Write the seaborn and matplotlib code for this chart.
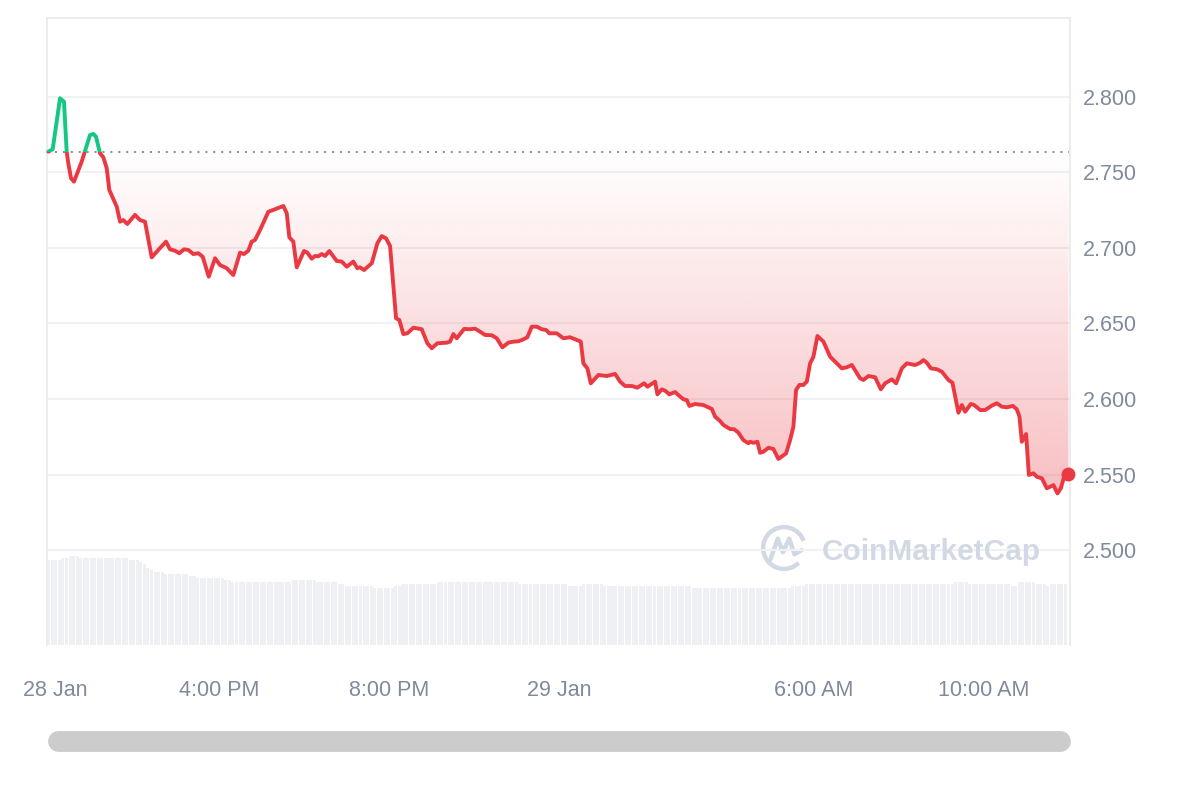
import numpy as np
import pandas as pd
import seaborn as sns
import matplotlib
matplotlib.use("Agg")
import matplotlib.pyplot as plt
from matplotlib.patches import Rectangle, Arc
from matplotlib.path import Path
from matplotlib.lines import Line2D

# price, hours since 28 Jan 00:00
hours = [11.984, 12.087, 12.259, 12.353, 12.416, 12.454, 12.518, 12.588, 12.769, 12.965,
         13.042, 13.106, 13.2, 13.278, 13.358, 13.419, 13.593, 13.671, 13.748, 13.842,
         14.024, 14.141, 14.259, 14.416, 14.572, 14.753, 14.847, 14.965, 15.066, 15.176,
         15.278, 15.395, 15.513, 15.616, 15.758, 15.906, 16.024, 16.181, 16.336, 16.494,
         16.588, 16.689, 16.769, 16.847, 16.965, 17.16, 17.278, 17.513, 17.593, 17.654,
         17.748, 17.828, 18.0, 18.078, 18.181, 18.259, 18.336, 18.416, 18.494, 18.595,
         18.769, 18.887, 19.005, 19.16, 19.254, 19.318, 19.412, 19.593, 19.725, 19.828,
         19.929, 20.024, 20.165, 20.242, 20.336, 20.431, 20.572, 20.769, 20.901, 21.005,
         21.136, 21.358, 21.435, 21.513, 21.593, 21.765, 21.906, 22.024, 22.141, 22.259,
         22.416, 22.534, 22.666, 22.807, 22.925, 23.042, 23.16, 23.254, 23.358, 23.475,
         23.593, 23.694, 23.772, 23.946, 24.101, 24.259, 24.416, 24.511, 24.572, 24.666,
         24.746, 24.925, 25.122, 25.318, 25.435, 25.553, 25.711, 25.842, 26.0, 26.078,
         26.259, 26.313, 26.416, 26.494, 26.595, 26.729, 26.831, 26.925, 27.005, 27.066,
         27.2, 27.395, 27.593, 27.671, 27.788, 27.866, 28.024, 28.118, 28.219, 28.336,
         28.454, 28.494, 28.572, 28.666, 28.729, 28.807, 28.925, 29.042, 29.16, 29.341,
         29.435, 29.513, 29.576, 29.654, 29.748, 29.828, 29.906, 29.984, 30.078, 30.219,
         30.376, 30.494, 30.652, 30.769, 30.887, 31.082, 31.16, 31.278, 31.435, 31.569,
         31.671, 31.828, 31.929, 32.064, 32.181, 32.376, 32.494, 32.572, 32.652, 32.746,
         32.887, 33.005, 33.16, 33.254, 33.395, 33.475, 33.553, 33.687, 33.765, 33.906,
         34.024, 34.181, 34.299, 34.416, 34.534, 34.675, 34.769, 34.831, 34.887, 34.988,
         35.052, 35.16, 35.24, 35.358, 35.475, 35.631, 35.725, 35.805, 35.906, 35.984]

price = [2.7638, 2.7654, 2.7991, 2.7969, 2.7638, 2.7561, 2.7462, 2.7439, 2.7572, 2.7748,
         2.7755, 2.7737, 2.7627, 2.7601, 2.7528, 2.7384, 2.7274, 2.7174, 2.7185, 2.7159,
         2.7219, 2.7185, 2.7174, 2.6938, 2.6987, 2.7042, 2.6991, 2.6982, 2.6965, 2.6991,
         2.6987, 2.6960, 2.6965, 2.6942, 2.6810, 2.6932, 2.6887, 2.6866, 2.6821, 2.6969,
         2.6960, 2.6982, 2.7042, 2.7053, 2.7119, 2.7240, 2.7252, 2.7278, 2.7230, 2.7071,
         2.7042, 2.6872, 2.6980, 2.6969, 2.6929, 2.6947, 2.6945, 2.6960, 2.6947, 2.6980,
         2.6914, 2.6910, 2.6876, 2.6910, 2.6866, 2.6872, 2.6854, 2.6899, 2.7031, 2.7079,
         2.7064, 2.7013, 2.6534, 2.6523, 2.6430, 2.6435, 2.6472, 2.6462, 2.6369, 2.6336,
         2.6369, 2.6373, 2.6380, 2.6430, 2.6402, 2.6464, 2.6462, 2.6466, 2.6446, 2.6424,
         2.6422, 2.6402, 2.6342, 2.6373, 2.6380, 2.6382, 2.6395, 2.6409, 2.6479, 2.6479,
         2.6462, 2.6457, 2.6435, 2.6435, 2.6402, 2.6409, 2.6391, 2.6380, 2.6236, 2.6203,
         2.6104, 2.6159, 2.6152, 2.6166, 2.6115, 2.6086, 2.6086, 2.6075, 2.6104, 2.6081,
         2.6115, 2.6031, 2.6064, 2.6055, 2.6031, 2.6046, 2.6020, 2.5998, 2.5993, 2.5954,
         2.5967, 2.5960, 2.5934, 2.5883, 2.5854, 2.5828, 2.5801, 2.5800, 2.5777, 2.5728,
         2.5707, 2.5717, 2.5710, 2.5717, 2.5644, 2.5651, 2.5677, 2.5669, 2.5603, 2.5640,
         2.5728, 2.5817, 2.6060, 2.6093, 2.6093, 2.6115, 2.6236, 2.6280, 2.6417, 2.6380,
         2.6280, 2.6247, 2.6203, 2.6210, 2.6225, 2.6137, 2.6126, 2.6152, 2.6144, 2.6064,
         2.6104, 2.6130, 2.6104, 2.6203, 2.6236, 2.6225, 2.6240, 2.6258, 2.6240, 2.6203,
         2.6197, 2.6181, 2.6126, 2.6108, 2.5909, 2.5960, 2.5916, 2.5967, 2.5960, 2.5927,
         2.5927, 2.5956, 2.5972, 2.5949, 2.5945, 2.5954, 2.5932, 2.5883, 2.5717, 2.5768,
         2.5497, 2.5508, 2.5485, 2.5475, 2.5409, 2.5430, 2.5375, 2.5409, 2.5512, 2.5503]

base_price = 2.7636

# volume (relative units), 5 minute bars, run lengths
vol_start = 11.953
vol_counts = [4, 2, 3, 14, 3, 1, 1, 1, 1, 3, 7, 2, 8, 2, 17, 7, 6, 2, 8, 6, 2, 10, 23,
              14, 4, 6, 25, 28, 4, 42, 4, 12, 2, 5, 3, 1, 5]
vol_levels = [85, 87, 89, 87, 85, 83, 81, 77, 75, 73, 71, 69, 67, 65, 63, 65, 63, 61, 59,
              57, 59, 61, 63, 61, 59, 61, 59, 57, 59, 61, 63, 61, 59, 63, 61, 59, 61]

tick_pos = [12.15, 16, 20, 24, 30, 34]
tick_lab = ["28 Jan", "4:00 PM", "8:00 PM", "29 Jan", "6:00 AM", "10:00 AM"]
yticks = [2.500, 2.550, 2.600, 2.650, 2.700, 2.750, 2.800]

RED = "#ea3943"
GREEN = "#16c784"
GREY = "#808a9d"
MARK = "#d3d9e4"

sns.set_theme(style="white")
plt.rcParams["font.family"] = ["Liberation Sans", "DejaVu Sans"]

df = pd.DataFrame({"h": hours, "p": price})
x = np.array(hours)
p = np.array(price)
xmin, xmax = 11.953, 36.02
ymin, ymax = 2.4371, 2.8523

fig = plt.figure(figsize=(12, 8), dpi=100)
ax = fig.add_axes([47 / 1200, 1 - 645 / 800, 1023 / 1200, 627 / 800])
ax2 = ax.twinx()

# volume bars
vols = np.repeat(vol_levels, vol_counts)
vt = vol_start + (np.arange(len(vols)) + 0.5) / 12
ax2.bar(vt, vols, width=0.86 / 12, color="#eef0f4", linewidth=0)
ax2.set_ylim(0, 627)
ax2.set_yticks([])
for s in ax2.spines.values():
    s.set_visible(False)
ax.set_zorder(ax2.get_zorder() + 1)
ax.patch.set_visible(False)

# gradient fills
def grad_fill(lo, hi, color, a_lo, a_hi, yvals):
    rgba = np.zeros((256, 1, 4))
    rgba[..., :3] = matplotlib.colors.to_rgb(color)
    rgba[:, 0, 3] = np.linspace(a_lo, a_hi, 256)
    im = ax.imshow(rgba, extent=[xmin, xmax, lo, hi], origin="lower",
                   aspect="auto", zorder=1, interpolation="bilinear")
    verts = list(zip(x, yvals)) + [(x[-1], base_price), (x[0], base_price)]
    im.set_clip_path(Path(verts), transform=ax.transData)

grad_fill(p.min(), base_price, RED, 0.32, 0.0, np.minimum(p, base_price))
grad_fill(base_price, p.max(), GREEN, 0.0, 0.12, np.maximum(p, base_price))

ax.axhline(base_price, color="#8f949c", lw=1.5, ls=(0, (1, 2.8)), zorder=2)

# price line, red below baseline, green above
sns.lineplot(data=df, x="h", y="p", color=RED, lw=2.8, ax=ax, zorder=3)
ax.lines[-1].set_clip_path(Rectangle((xmin - 1, ymin - 1), 40, base_price - ymin + 1,
                                     transform=ax.transData))
sns.lineplot(data=df, x="h", y="p", color=GREEN, lw=2.8, ax=ax, zorder=3)
ax.lines[-1].set_clip_path(Rectangle((xmin - 1, base_price), 40, 1,
                                     transform=ax.transData))
ax.plot(x[-1], p[-1], "o", color=RED, ms=9, zorder=4, clip_on=False)

ax.set_xlim(xmin, xmax)
ax.set_ylim(ymin, ymax)
ax.set_xlabel("")
ax.set_ylabel("")
ax.yaxis.tick_right()
ax.set_yticks(yticks, [f"{v:.3f}" for v in yticks])
ax.set_xticks(tick_pos, tick_lab)
ax.tick_params(axis="y", length=0, pad=9.5, labelsize=15.5, labelcolor=GREY)
ax.tick_params(axis="x", length=0, pad=25, labelsize=15.5, labelcolor=GREY)
ax.grid(axis="y", color="#eff1f4", lw=1.5)
ax.grid(axis="x", visible=False)
for side in ["left", "right", "top"]:
    ax.spines[side].set_color("#ececec")
    ax.spines[side].set_linewidth(1.4)
ax.spines["bottom"].set_visible(False)

# watermark
fig.text(822 / 1200, 1 - 560 / 800, "CoinMarketCap", fontsize=21.5, fontweight="bold",
         color=MARK, va="baseline", ha="left")
lg = fig.add_axes([760 / 1200, 1 - 572 / 800, 48 / 1200, 48 / 800])
lg.set_xlim(-1.15, 1.15)
lg.set_ylim(-1.15, 1.15)
lg.axis("off")
lg.add_patch(Arc((0, 0), 2, 2, theta1=20, theta2=315, color=MARK, lw=3.2))
lg.plot([-0.65, -0.3, -0.05, 0.25, 0.5, 0.85], [-0.55, 0.45, -0.2, 0.45, -0.3, -0.1],
        color=MARK, lw=3.2, solid_joinstyle="round", solid_capstyle="round")

# scrollbar
fig.add_artist(Line2D([57.5 / 1200, 1059.5 / 1200], [1 - 740.5 / 800] * 2,
                      transform=fig.transFigure, lw=15, color="#cccccc",
                      solid_capstyle="round"))

fig.savefig("out.png", dpi=100)
